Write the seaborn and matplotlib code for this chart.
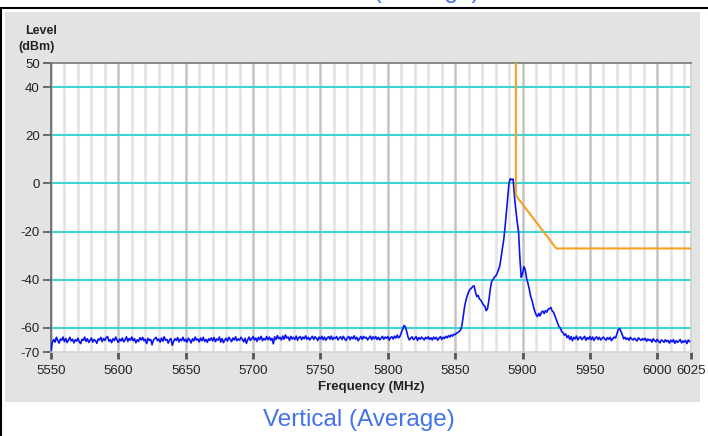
import numpy as np
import pandas as pd
import matplotlib.pyplot as plt
import seaborn as sns
from matplotlib.patches import Rectangle

# Spectrum trace, one reading every 1 MHz from 5550 to 6024 MHz (20 per row)
freq_start = 5550
freq_step = 1
level_dbm = [
    -69.5, -66.0, -64.8, -65.9, -63.9, -65.2, -66.3, -64.6, -65.1, -63.8, -65.7, -64.4, -66.1, -65.0, -63.9, -65.4, -64.7, -66.2, -64.9, -65.5,
    -64.3, -65.8, -66.5, -64.7, -65.2, -63.8, -65.6, -64.5, -66.0, -65.1, -64.2, -65.9, -64.8, -65.3, -66.4, -64.6, -65.0, -63.9, -65.7, -64.4,
    -65.2, -64.0, -63.6, -65.5, -64.8, -66.1, -64.5, -65.3, -63.8, -65.0, -66.0, -64.6, -65.4, -64.2, -65.8, -64.9, -63.7, -65.6, -64.4, -65.1,
    -63.8, -65.3, -64.5, -66.2, -64.9, -65.6, -64.1, -65.0, -63.9, -65.4, -64.7, -66.5, -64.3, -65.2, -64.8, -67.0, -65.1, -64.4, -63.9, -65.3,
    -64.6, -65.9, -64.2, -65.5, -63.7, -65.1, -64.8, -66.3, -65.0, -64.4, -67.2, -65.6, -64.5, -65.2, -64.0, -65.8, -64.6, -65.3, -63.9, -65.5,
    -64.7, -65.9, -64.3, -65.0, -66.2, -64.5, -65.4, -63.8, -65.1, -64.6, -65.8, -64.2, -65.3, -63.9, -65.6, -64.8, -66.0, -64.5, -65.2, -64.1,
    -65.4, -64.0, -65.7, -64.6, -65.1, -63.8, -65.9, -64.4, -66.1, -65.0, -64.3, -65.5, -63.9, -64.8, -65.7, -64.2, -65.0, -63.7, -65.3, -64.6,
    -65.1, -63.9, -64.7, -65.8, -64.3, -66.4, -64.9, -63.8, -65.2, -64.5, -63.6, -65.0, -64.2, -65.6, -63.9, -64.8, -63.5, -65.3, -64.4, -65.0,
    -63.6, -64.9, -63.8, -65.1, -64.3, -66.6, -63.7, -64.8, -63.2, -64.5, -63.9, -65.0, -63.4, -64.7, -62.9, -64.2, -63.8, -65.2, -63.5, -64.6,
    -63.9, -64.8, -63.4, -65.1, -64.0, -63.6, -64.9, -63.8, -64.5, -63.3, -64.7, -63.9, -65.0, -64.2, -63.5, -64.8, -63.7, -64.3, -65.2, -63.8,
    -64.6, -63.5, -64.9, -63.8, -65.1, -64.2, -63.6, -64.7, -63.4, -64.9, -63.9, -64.4, -63.6, -65.0, -64.1, -63.7, -64.8, -63.5, -64.6, -65.2,
    -64.0, -63.6, -64.9, -63.8, -64.5, -63.3, -64.7, -63.9, -65.3, -64.4, -63.6, -64.8, -63.5, -64.2, -63.9, -65.0, -64.1, -63.4, -64.9, -63.7,
    -64.5, -63.6, -64.8, -63.9, -65.0, -64.2, -63.5, -64.7, -63.8, -64.3, -63.6, -65.1, -64.0, -63.7, -64.6, -63.4, -64.2, -63.0, -64.1, -63.5,
    -62.0, -60.5, -59.0, -59.5, -61.5, -63.8, -65.0, -64.2, -63.7, -64.9, -64.3, -63.6, -65.2, -64.0, -64.7, -63.8, -64.4, -65.0, -63.9, -64.5,
    -63.7, -64.8, -64.1, -65.0, -63.8, -64.6, -63.9, -65.1, -64.3, -63.6, -64.8, -63.9, -64.4, -63.5, -64.1, -63.2, -63.8, -62.9, -63.4, -62.6,
    -62.8, -62.2, -61.9, -61.5, -60.8, -59.0, -55.0, -51.0, -48.5, -46.5, -45.0, -44.0, -43.5, -42.8, -42.5, -45.0, -47.0, -46.5, -48.0, -48.5,
    -49.5, -50.5, -51.0, -52.8, -52.0, -48.5, -44.0, -40.8, -40.0, -39.0, -38.5, -37.5, -36.0, -34.5, -31.0, -27.0, -23.5, -18.0, -12.0, -5.5,
    0.5, 2.0, 1.5, 1.8, -5.5, -11.0, -16.0, -20.0, -31.0, -39.0, -37.5, -34.5, -36.0, -39.5, -41.5, -44.0, -47.0, -48.5, -51.0, -53.0,
    -54.5, -55.3, -54.0, -55.0, -53.5, -53.0, -54.0, -52.8, -53.5, -52.2, -52.0, -51.5, -53.0, -53.5, -55.0, -56.5, -58.0, -59.5, -60.0, -61.5,
    -62.0, -63.0, -62.5, -64.0, -63.2, -64.8, -63.6, -65.3, -63.9, -64.6, -63.4, -65.0, -64.1, -63.7, -64.9, -64.2, -63.5, -65.1, -64.0, -64.7,
    -63.6, -64.9, -63.8, -65.2, -64.1, -63.7, -64.8, -63.9, -65.0, -64.3, -63.8, -64.6, -65.1, -64.0, -64.7, -63.9, -65.3, -64.4, -63.8, -64.2,
    -62.5, -60.8, -60.2, -61.5, -62.8, -64.5, -63.9, -64.8, -64.2, -65.1, -63.9, -64.6, -65.0, -64.3, -64.9, -65.4, -64.1, -64.7, -65.2, -64.4,
    -65.0, -64.3, -65.5, -64.6, -65.2, -64.8, -65.9, -64.5, -65.3, -65.8, -64.7, -65.6, -66.2, -65.0, -65.4, -66.0, -64.9, -65.7, -65.2, -66.3,
    -65.1, -65.8, -64.9, -66.4, -65.3, -66.0, -65.5, -64.8, -66.2, -65.4, -65.9, -65.2, -66.5, -65.0, -65.7,
]
freq_mhz = freq_start + freq_step * np.arange(len(level_dbm))

# Limit mask (orange)
mask_freq = [5895, 5895, 5925, 6025]
mask_level = [50, -5, -27, -27]

x_ticks = [5550, 5600, 5650, 5700, 5750, 5800, 5850, 5900, 5950, 6000, 6025]
y_ticks = [50, 40, 20, 0, -20, -40, -60, -70]
h_lines = [40, 20, 0, -20, -40, -60]

sns.set_style("white")
plt.rcParams['font.family'] = ['Liberation Sans', 'DejaVu Sans']

fig = plt.figure(figsize=(7.08, 4.36), dpi=100)
fig.patches.append(Rectangle((5 / 708, 1 - 402 / 436), 695 / 708, 390 / 436,
                             transform=fig.transFigure, facecolor='#e3e3e3',
                             edgecolor='none', zorder=-10))
fig.add_artist(plt.Line2D([0, 1], [1 - 8 / 436] * 2, transform=fig.transFigure,
                          color='black', lw=1.5))
fig.add_artist(plt.Line2D([0.5 / 708] * 2, [0, 1 - 8 / 436], transform=fig.transFigure,
                          color='black', lw=1.5))

ax = fig.add_axes([51 / 708, 1 - 352 / 436, 640 / 708, 289 / 436])
ax.set_zorder(5)
ax.set_facecolor('white')

ax.set_xticks(np.arange(5550, 6030, 10), minor=True)
ax.grid(which='minor', axis='x', color='#e2e2e2', lw=1.8)
ax.grid(which='major', axis='x', color='#c4c4c4', lw=1.8)
ax.grid(axis='y', visible=False)
for h in h_lines:
    ax.axhline(h, color='#3fd3d3', lw=1.5, zorder=1)

df = pd.DataFrame({'freq': freq_mhz, 'level': level_dbm})
sns.lineplot(data=df, x='freq', y='level', color='#0a14f0', lw=1.2, ax=ax, zorder=3,
             estimator=None)
sns.lineplot(x=mask_freq, y=mask_level, color='#f5a020', lw=1.5, ax=ax, zorder=4,
             sort=False, estimator=None)

ax.set_xlim(5550, 6025)
ax.set_ylim(-70, 50)
ax.set_xticks(x_ticks)
ax.set_xticklabels([str(t) for t in x_ticks])
ax.set_yticks(y_ticks)
ax.set_yticklabels([str(t) for t in y_ticks])
ax.tick_params(axis='x', which='major', length=5, width=2, color='#555555',
               labelsize=9.5, labelcolor='#222222', pad=4, bottom=True)
ax.tick_params(axis='y', which='major', length=6, width=1.2, color='#555555',
               labelsize=9.5, labelcolor='#222222', pad=2, left=True)
ax.tick_params(which='minor', length=0)

ax.spines['left'].set_color('#666666')
ax.spines['top'].set_color('#777777')
ax.spines['right'].set_color('#d4d4d4')
ax.spines['bottom'].set_color('#d4d4d4')
for s in ax.spines.values():
    s.set_linewidth(1.2)

ax.set_xlabel('Frequency (MHz)', fontsize=9.5, fontweight='bold', color='#222222',
              labelpad=3)
ax.set_ylabel('')

fig.text(41 / 708, 1 - 31 / 436, 'Level', ha='center', va='center',
         fontsize=9, fontweight='bold', color='#222222')
fig.text(37 / 708, 1 - 47 / 436, '(dBm)', ha='center', va='center',
         fontsize=9, fontweight='bold', color='#222222')

fig.text(359 / 708, 1 - 420 / 436, 'Vertical (Average)', ha='center', va='center',
         fontsize=17.5, color='#4472ea')
fig.text(480 / 708, 1 + 2 / 436, 'Horizontal (Average)', ha='right', va='baseline',
         fontsize=17.5, color='#4472ea')

fig.savefig('out.png', dpi=100)
